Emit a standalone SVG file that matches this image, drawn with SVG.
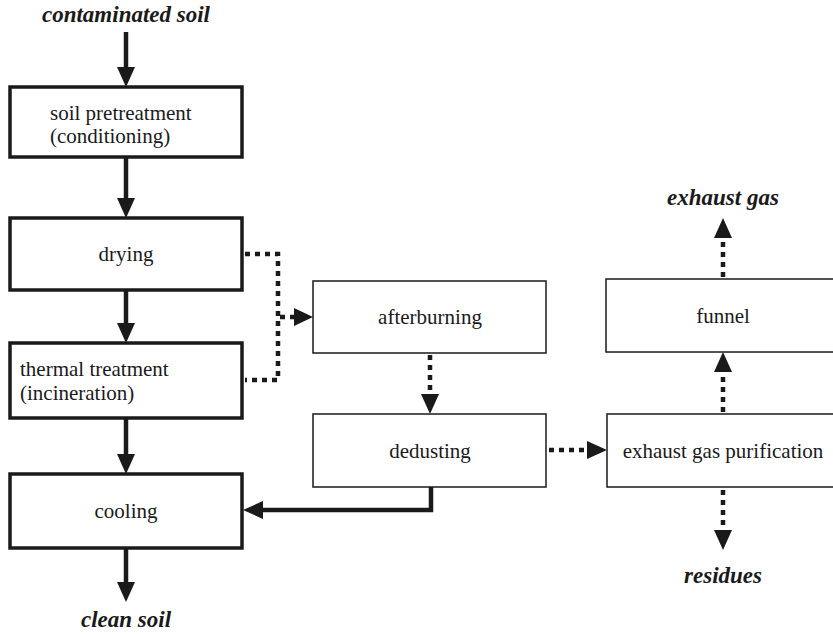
<svg xmlns="http://www.w3.org/2000/svg" width="833" height="634" viewBox="0 0 833 634">
<style>
.thick{fill:#fff;stroke:#1a1a1a;stroke-width:3.5}
.thin{fill:#fff;stroke:#1a1a1a;stroke-width:1.5}
.t{font-family:'Liberation Serif',serif !important;font-size:21px;fill:#1a1a1a}
.tc{text-anchor:middle}
.lab{font-family:'Liberation Serif',serif !important;font-size:23px;font-weight:bold;font-style:italic;fill:#1a1a1a;text-anchor:middle}
.solid{fill:none;stroke:#1a1a1a;stroke-width:4.5}
.dot{fill:none;stroke:#1a1a1a;stroke-width:4.5;stroke-dasharray:5 5}
.head{fill:#1a1a1a}
</style>
<g id="connectors">
<line class="solid" x1="126" y1="32" x2="126" y2="70"/>
<polygon class="head" points="117,67 135,67 126,87"/>
<line class="solid" x1="126" y1="157" x2="126" y2="200"/>
<polygon class="head" points="117,198 135,198 126,218"/>
<line class="solid" x1="126" y1="290" x2="126" y2="326"/>
<polygon class="head" points="117,323 135,323 126,343"/>
<line class="solid" x1="126" y1="418" x2="126" y2="456"/>
<polygon class="head" points="117,454 135,454 126,474"/>
<line class="solid" x1="126" y1="548" x2="126" y2="584"/>
<polygon class="head" points="117,582 135,582 126,602"/>
<polyline class="solid" points="431,487 431,510 260,510"/>
<polygon class="head" points="263,501 263,519 243,510"/>
<polyline class="dot" points="245,254 278,254 278,380 245,380"/>
<line class="dot" x1="280" y1="317" x2="296" y2="317"/>
<polygon class="head" points="294,308 294,326 313,317"/>
<line class="dot" x1="430" y1="355" x2="430" y2="396"/>
<polygon class="head" points="421,394 439,394 430,414"/>
<line class="dot" x1="549" y1="450" x2="589" y2="450"/>
<polygon class="head" points="587,441 587,459 607,450"/>
<line class="dot" x1="723" y1="412" x2="723" y2="370"/>
<polygon class="head" points="714,372 732,372 723,352"/>
<line class="dot" x1="723" y1="277" x2="723" y2="236"/>
<polygon class="head" points="714,238 732,238 723,218"/>
<line class="dot" x1="723" y1="490" x2="723" y2="532"/>
<polygon class="head" points="714,530 732,530 723,550"/>
</g>
<g id="label-contaminated"><text class="lab" style="font-family:'Liberation Serif',serif" x="126" y="22">contaminated soil</text></g>
<g id="label-clean"><text class="lab" style="font-family:'Liberation Serif',serif" x="126" y="627">clean soil</text></g>
<g id="label-exhaust"><text class="lab" style="font-family:'Liberation Serif',serif" x="723" y="205">exhaust gas</text></g>
<g id="label-residues"><text class="lab" style="font-family:'Liberation Serif',serif" x="723" y="583">residues</text></g>
<g id="pretreatment">
<rect class="thick" x="10" y="87" width="232" height="70"/>
<text class="t" style="font-family:'Liberation Serif',serif" x="50" y="120">soil pretreatment</text>
<text class="t" style="font-family:'Liberation Serif',serif" x="50" y="143">(conditioning)</text>
</g>
<g id="drying">
<rect class="thick" x="10" y="218" width="232" height="72"/>
<text class="t tc" style="font-family:'Liberation Serif',serif" x="126" y="261">drying</text>
</g>
<g id="thermal">
<rect class="thick" x="10" y="343" width="232" height="75"/>
<text class="t" style="font-family:'Liberation Serif',serif" x="20" y="376">thermal treatment</text>
<text class="t" style="font-family:'Liberation Serif',serif" x="20" y="400">(incineration)</text>
</g>
<g id="cooling">
<rect class="thick" x="10" y="474" width="232" height="74"/>
<text class="t tc" style="font-family:'Liberation Serif',serif" x="126" y="518">cooling</text>
</g>
<g id="afterburning">
<rect class="thin" x="313" y="281" width="233" height="72"/>
<text class="t tc" style="font-family:'Liberation Serif',serif" x="430" y="324">afterburning</text>
</g>
<g id="dedusting">
<rect class="thin" x="313" y="414" width="233" height="73"/>
<text class="t tc" style="font-family:'Liberation Serif',serif" x="430" y="458">dedusting</text>
</g>
<g id="funnel">
<rect class="thin" x="606" y="279" width="240" height="73"/>
<text class="t tc" style="font-family:'Liberation Serif',serif" x="723" y="323">funnel</text>
</g>
<g id="purification">
<rect class="thin" x="607" y="414" width="240" height="73"/>
<text class="t tc" style="font-family:'Liberation Serif',serif" x="723" y="458">exhaust gas purification</text>
</g>
</svg>
